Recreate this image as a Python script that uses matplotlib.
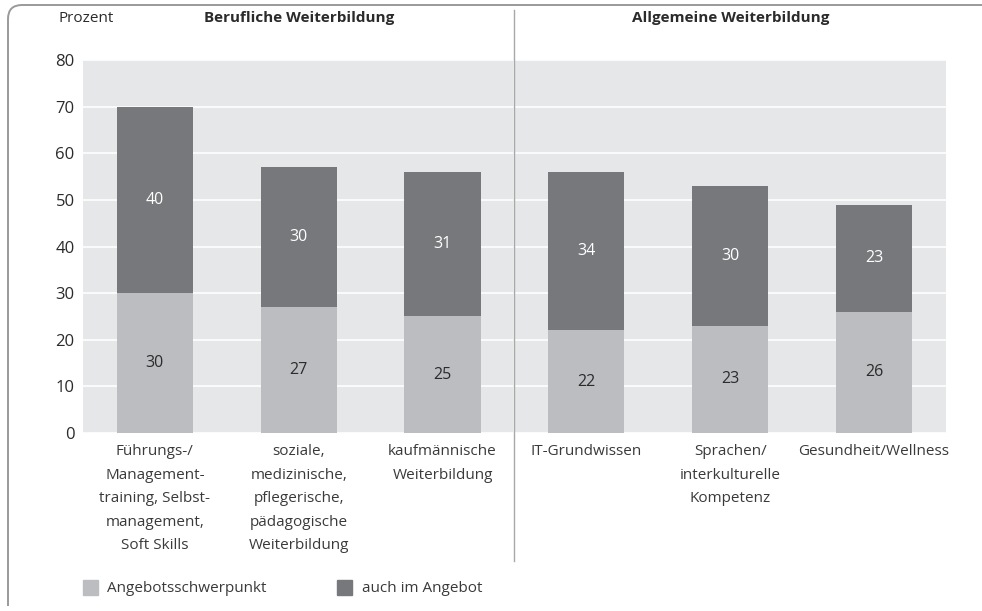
import matplotlib.pyplot as plt
from matplotlib.path import Path
from matplotlib.patches import PathPatch, Rectangle
from matplotlib.lines import Line2D
import numpy as np

plt.rcParams['font.family'] = ['Open Sans', 'DejaVu Sans']

categories = [
    "Führungs-/\nManagement-\ntraining, Selbst-\nmanagement,\nSoft Skills",
    "soziale,\nmedizinische,\npflegerische,\npädagogische\nWeiterbildung",
    "kaufmännische\nWeiterbildung",
    "IT-Grundwissen",
    "Sprachen/\ninterkulturelle\nKompetenz",
    "Gesundheit/Wellness",
]
schwerpunkt = [30, 27, 25, 22, 23, 26]
auch_angebot = [40, 30, 31, 34, 30, 23]
groups = ["Berufliche Weiterbildung", "Allgemeine Weiterbildung"]
yticks = [0, 10, 20, 30, 40, 50, 60, 70, 80]

c_light = "#bcbdc0"
c_dark = "#77787b"
c_bg = "#e6e7e8"
c_text = "#2b2b2b"
fs = 11

fig = plt.figure(figsize=(9.82, 6.11), dpi=100)
ax = fig.add_axes([0.0845, 0.2913, 0.8788, 0.6105])
ax.set_facecolor(c_bg)

x = np.arange(len(categories))
w = 0.53
ax.bar(x, schwerpunkt, w, color=c_light, zorder=3)
ax.bar(x, auch_angebot, w, bottom=schwerpunkt, color=c_dark, zorder=3)

for xi, a, b in zip(x, schwerpunkt, auch_angebot):
    ax.text(xi, a / 2, str(a), ha="center", va="center", fontsize=fs + 0.5, color=c_text, zorder=4)
    ax.text(xi, a + b / 2, str(b), ha="center", va="center", fontsize=fs + 0.5, color="white", zorder=4)

ax.set_xlim(-0.5, 5.5)
ax.set_ylim(0, 80)
ax.set_yticks(yticks)
ax.yaxis.grid(True, color="white", linewidth=1.2, zorder=1)
ax.set_axisbelow(True)
for s in ax.spines.values():
    s.set_visible(False)
ax.tick_params(axis="y", length=0, pad=6, labelsize=fs + 1, labelcolor=c_text)
ax.set_xticks(x)
ax.set_xticklabels(categories, fontsize=fs, color="#3a3a3a", linespacing=1.78, va="top")
ax.tick_params(axis="x", length=0, pad=8)

# separator between groups
sep_x = ax.transData.transform((2.5, 0))[0] / fig.bbox.width
fig.add_artist(Line2D([sep_x, sep_x], [1 - 561 / 611, 1 - 10 / 611], color="#a8a8a8", linewidth=1.0))
ax.axvline(2.5, color="white", linewidth=1.2, zorder=2)

# headers
fig.text(58 / 982, 1 - 18 / 611, "Prozent", fontsize=fs, color=c_text, va="center", ha="left")
for gx, g in zip([1, 4], groups):
    px = ax.transData.transform((gx, 0))[0] / fig.bbox.width
    fig.text(px, 1 - 18 / 611, g, fontsize=fs, fontweight="bold", color=c_text, va="center", ha="center")

# outer frame: left and top edges with a rounded corner (pixel coords)
r = 14
verts = [(8, 611 - 606), (8, 611 - 5 - r), (8, 611 - 5), (8 + r, 611 - 5), (990, 611 - 5)]
codes = [Path.MOVETO, Path.LINETO, Path.CURVE3, Path.CURVE3, Path.LINETO]
fig.add_artist(PathPatch(Path([(vx / 982, vy / 611) for vx, vy in verts], codes),
                         transform=fig.transFigure, fill=False,
                         edgecolor="#9a9a9a", linewidth=1.4))

# legend
ly = 1 - 588 / 611
fig.add_artist(Rectangle((83 / 982, ly - 7 / 611), 15 / 982, 15 / 611, color=c_light, transform=fig.transFigure))
fig.text(107 / 982, ly, "Angebotsschwerpunkt", fontsize=fs, color="#3a3a3a", va="center")
fig.add_artist(Rectangle((337 / 982, ly - 7 / 611), 15 / 982, 15 / 611, color=c_dark, transform=fig.transFigure))
fig.text(362 / 982, ly, "auch im Angebot", fontsize=fs, color="#3a3a3a", va="center")

fig.savefig("out.png", dpi=100)
